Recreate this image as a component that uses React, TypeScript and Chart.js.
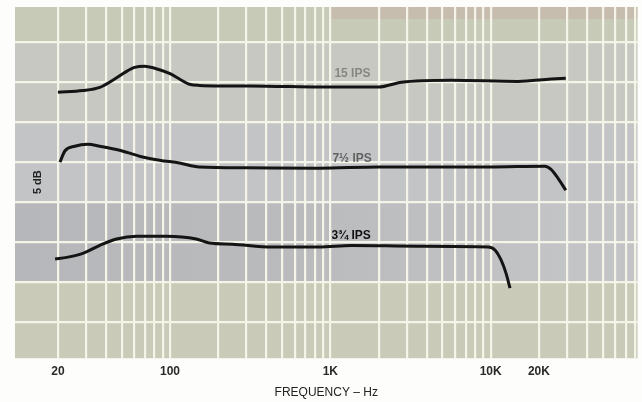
import React, { useEffect, useRef } from "react";
import { Chart, registerables } from "chart.js";

Chart.register(...registerables);

// Frequency (Hz) and relative level (dB)
const freq15 = [20, 28.6, 36.5, 45.2, 52.1, 60.2, 69.4, 80.1, 99.3, 114.5, 132, 152, 400, 848, 2000, 2780, 5680, 14800, 23800, 29400];
const db15 = [28.75, 28.95, 29.35, 30.4, 31.2, 31.85, 32.0, 31.75, 31.1, 30.4, 29.75, 29.6, 29.5, 29.4, 29.4, 30.0, 30.25, 30.1, 30.4, 30.5];

const freq75 = [20.6, 22.1, 25.5, 30.7, 36.5, 48.5, 64.6, 86, 114.5, 152, 300, 848, 2000, 9640, 21800, 23800, 26260, 29400];
const db75 = [20.0, 21.4, 22.0, 22.25, 22.0, 21.5, 20.75, 20.25, 19.9, 19.4, 19.3, 19.25, 19.4, 19.4, 19.5, 19.1, 18.0, 16.5];

const freq375 = [19.2, 22.7, 28.6, 36.5, 46.5, 61.9, 95, 146, 176, 244, 433, 848, 1358, 3540, 9640, 10660, 11620, 12470, 13200];
const db375 = [7.9, 8.1, 8.6, 9.6, 10.4, 10.75, 10.75, 10.4, 9.9, 9.75, 9.4, 9.4, 9.6, 9.5, 9.4, 9.0, 7.75, 6.1, 4.25];

const seriesNames = ["15 IPS", "7½ IPS", "3¾ IPS"];

const gridFreqs = [
  20, 30, 40, 50, 60, 70, 80, 90,
  100, 200, 300, 400, 500, 600, 700, 800, 900,
  1000, 2000, 3000, 4000, 5000, 6000, 7000, 8000, 9000,
  10000, 20000, 30000, 40000, 50000, 60000, 70000, 80000,
];
const labelledFreqs = [20, 100, 1000, 10000, 20000];
const freqLabels = ["20", "100", "1K", "10K", "20K"];
const dbGrid = [0, 5, 10, 15, 20, 25, 30, 35];

const FONT = "'Liberation Sans', Arial, sans-serif";

const toPts = (f: number[], d: number[]) => f.map((x, i) => ({ x, y: d[i] }));

const backgroundPlugin = {
  id: "paperBg",
  beforeDraw(chart: any) {
    const { ctx, chartArea: a } = chart;
    const y = chart.scales.y;
    const x = chart.scales.x;
    ctx.save();
    const bands: [number, number, string][] = [
      [39.5, 35, "#c7cab6"],
      [35, 25, "#c7c8c1"],
      [25, 5, "#c3c4c5"],
      [5, -5, "#c9cab7"],
    ];
    for (const [v1, v2, c] of bands) {
      const y1 = Math.max(a.top, y.getPixelForValue(v1));
      const y2 = Math.min(a.bottom, y.getPixelForValue(v2));
      ctx.fillStyle = c;
      ctx.fillRect(a.left, y1, a.right - a.left, y2 - y1);
    }
    // darker middle patch fading to the right
    const y1 = y.getPixelForValue(15);
    const y2 = y.getPixelForValue(5);
    const g = ctx.createLinearGradient(a.left, 0, x.getPixelForValue(30000), 0);
    g.addColorStop(0, "rgba(150,150,158,0.28)");
    g.addColorStop(0.5, "rgba(150,150,158,0.2)");
    g.addColorStop(1, "rgba(150,150,158,0)");
    ctx.fillStyle = g;
    ctx.fillRect(a.left, y1, a.right - a.left, y2 - y1);
    // pinkish top strip on the right
    const xs = x.getPixelForValue(1000);
    ctx.fillStyle = "rgba(200,172,165,0.45)";
    ctx.fillRect(xs, a.top, a.right - xs, 12);
    ctx.restore();
  },
};

const textPlugin = {
  id: "paperText",
  afterDatasetsDraw(chart: any) {
    const { ctx } = chart;
    const x = chart.scales.x;
    const y = chart.scales.y;
    ctx.save();
    ctx.textBaseline = "alphabetic";
    ctx.textAlign = "left";
    ctx.font = `bold 12px ${FONT}`;
    const lx = x.getPixelForValue(1030);
    ctx.fillStyle = "rgba(70,70,70,0.5)";
    ctx.fillText(seriesNames[0], lx + 2, y.getPixelForValue(30.7));
    ctx.fillStyle = "rgba(45,45,45,0.65)";
    ctx.fillText(seriesNames[1], lx, y.getPixelForValue(20.0));
    ctx.fillStyle = "#111";
    ctx.fillText(seriesNames[2], lx - 1, y.getPixelForValue(10.4));
    // 5 dB scale marker
    ctx.translate(38, y.getPixelForValue(17.5));
    ctx.rotate(-Math.PI / 2);
    ctx.textAlign = "center";
    ctx.textBaseline = "middle";
    ctx.fillStyle = "#222";
    ctx.font = `bold 11px ${FONT}`;
    ctx.fillText("5 dB", 0, 0);
    ctx.restore();
  },
};

export default function App() {
  const ref = useRef<HTMLCanvasElement | null>(null);
  useEffect(() => {
    if (!ref.current) return;
    const lineStyle = {
      borderColor: "#141414",
      borderWidth: 3,
      pointRadius: 0,
      fill: false,
      cubicInterpolationMode: "monotone" as const,
    };
    const chart = new Chart(ref.current, {
      type: "line",
      data: {
        datasets: [
          { label: seriesNames[0], data: toPts(freq15, db15), ...lineStyle },
          { label: seriesNames[1], data: toPts(freq75, db75), ...lineStyle },
          { label: seriesNames[2], data: toPts(freq375, db375), ...lineStyle },
        ],
      },
      options: {
        animation: false,
        responsive: false,
        layout: { padding: { left: 15, right: 2, top: 7, bottom: 2 } },
        plugins: { legend: { display: false }, tooltip: { enabled: false } },
        scales: {
          x: {
            type: "logarithmic",
            min: 10.8,
            max: 82400,
            afterBuildTicks: (axis: any) => {
              axis.ticks = gridFreqs.map((v) => ({ value: v }));
            },
            grid: { color: "#f4f4e8", lineWidth: 2.2, drawTicks: false },
            border: { display: false },
            ticks: {
              autoSkip: false,
              maxRotation: 0,
              padding: 6.5,
              color: "#2a2a2a",
              font: { family: FONT, size: 12, weight: "bold" },
              callback: (v: any) => {
                const i = labelledFreqs.indexOf(Number(v));
                return i >= 0 ? freqLabels[i] : "";
              },
            },
            title: {
              display: true,
              text: "FREQUENCY – Hz",
              color: "#222",
              font: { family: FONT, size: 12 },
              padding: { top: 0, bottom: 0 },
            },
          },
          y: {
            type: "linear",
            display: true,
            min: -4.5,
            max: 39.4,
            afterBuildTicks: (axis: any) => {
              axis.ticks = dbGrid.map((v) => ({ value: v }));
            },
            grid: { color: "#f4f4e8", lineWidth: 2.2, drawTicks: false },
            border: { display: false },
            ticks: { display: false },
          },
        },
      },
      plugins: [backgroundPlugin, textPlugin],
    });
    return () => chart.destroy();
  }, []);
  return (
    <div style={{ position: "fixed", left: 0, top: 0, width: 642, height: 402, background: "#fdfdfb" }}>
      <canvas ref={ref} width={642} height={402} style={{ display: "block" }} />
    </div>
  );
}
